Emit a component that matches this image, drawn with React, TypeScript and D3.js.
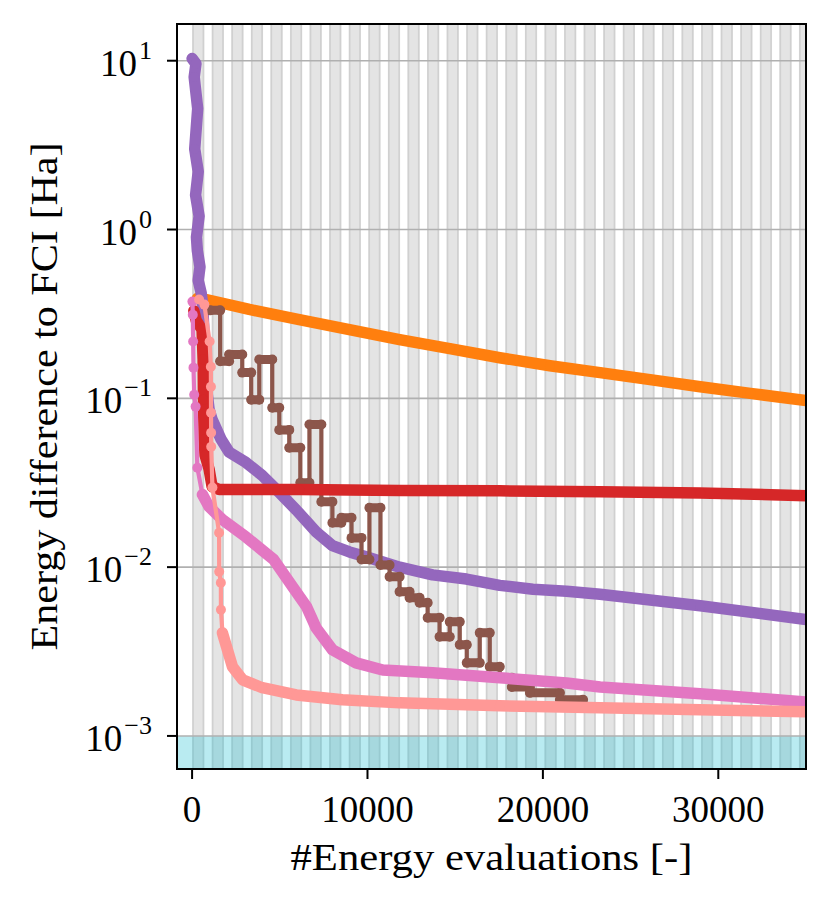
import * as d3 from "d3";

// x: number of energy evaluations, y: energy error to FCI [Ha]
const orangeEvals = [300, 800, 3260, 6110, 8970, 11830, 14690, 17540, 20400, 23260, 26110, 28970, 31830, 35000];
const orangeErr = [0.39, 0.385, 0.336, 0.293, 0.255, 0.223, 0.197, 0.174, 0.156, 0.142, 0.129, 0.117, 0.107, 0.097];

const redEvals = [100, 230, 570, 630, 650, 690, 740, 970, 1140, 1540, 6110, 11830, 17540, 23260, 28970, 35000];
const redErr = [0.33, 0.29, 0.255, 0.17, 0.098, 0.057, 0.046, 0.038, 0.03, 0.0288, 0.0288, 0.0284, 0.0283, 0.028, 0.0275, 0.0265];

const purpleEvals = [0, 220, 120, 320, 150, 350, 200, 400, 250, 300, 450, 350, 520, 600, 660, 700, 740, 800, 970, 1140, 1660, 2110, 3070, 4000, 4970, 5940, 7070, 8000, 8970, 9930, 11830, 13710, 15640, 17540, 19430, 21350, 23260, 28970, 35000];
const purpleErr = [10.3, 9.6, 8.0, 5.2, 3.0, 2.2, 1.6, 1.2, 0.9, 0.75, 0.6, 0.5, 0.42, 0.36, 0.27, 0.2, 0.15, 0.12, 0.086, 0.075, 0.057, 0.048, 0.0417, 0.0349, 0.0277, 0.0218, 0.0162, 0.0134, 0.0123, 0.0115, 0.01, 0.009, 0.0085, 0.0078, 0.0074, 0.0072, 0.0069, 0.0059, 0.0049];

// brown is a staircase: each step is a flat segment start -> end
const brownStart = [1030, 1600, 2110, 2860, 3370, 3830, 4570, 4970, 5540, 6170, 6690, 7370, 8000, 8510, 9090, 9660, 10110, 10740, 11260, 11830, 12400, 12970, 13430, 14110, 14690, 15260, 15660, 16400, 16970, 17540, 18230, 19260, 20970];
const brownEnd = [1600, 2110, 2860, 3370, 3830, 4570, 4970, 5540, 6170, 6690, 7370, 8000, 8510, 9090, 9660, 10110, 10740, 11260, 11830, 12400, 12970, 13430, 14110, 14690, 15260, 15660, 16400, 16970, 17540, 18230, 19260, 20970, 22290];
const brownErr = [0.332, 0.166, 0.182, 0.142, 0.098, 0.17, 0.088, 0.065, 0.051, 0.0316, 0.07, 0.0244, 0.0183, 0.0196, 0.0149, 0.0111, 0.0225, 0.0103, 0.00877, 0.00715, 0.00659, 0.00615, 0.00501, 0.00387, 0.00474, 0.00347, 0.00271, 0.00408, 0.00257, 0.00221, 0.00195, 0.0018, 0.00164];

const pinkEvals = [20, 40, 60, 80, 120, 200, 300, 590, 970, 1730, 3070, 4650, 5730, 6530, 7070, 8000, 9350, 10870, 13710, 17540, 21350, 23260, 28970, 35000];
const pinkErr = [0.374, 0.313, 0.217, 0.152, 0.105, 0.0893, 0.0388, 0.0269, 0.0228, 0.0191, 0.0151, 0.0111, 0.00766, 0.00582, 0.00437, 0.00324, 0.00271, 0.00246, 0.00237, 0.00221, 0.00206, 0.00195, 0.00178, 0.00159];

const salmonEvals = [400, 700, 1000, 1070, 1075, 1080, 1085, 1090, 1160, 1540, 1545, 1640, 1645, 1730, 2300, 2880, 4000, 5940, 8570, 11830, 17540, 23260, 28970, 35000];
const salmonErr = [0.385, 0.359, 0.217, 0.154, 0.117, 0.0822, 0.0626, 0.0517, 0.0296, 0.016, 0.00939, 0.00809, 0.00559, 0.00408, 0.00257, 0.00215, 0.00193, 0.00175, 0.00164, 0.00157, 0.00151, 0.00147, 0.00143, 0.00139];

const xTicks = [0, 10000, 20000, 30000];
const yTickExp = [1, 0, -1, -2, -3];
const chemAcc = 1e-3;

const W = 830, H = 907;
const m = { left: 177, right: 806, top: 24, bottom: 769 };
const FONT = "'Liberation Serif', 'DejaVu Serif', serif";
const THIN = 4.2, THICK = 11.5, DOT = 5;

type Pt = [number, number];
const zip = (xs: number[], ys: number[]): Pt[] => xs.map((v, i) => [v, ys[i]]);

export default function App() {
  const x = d3.scaleLinear().domain([-860, 35000]).range([m.left, m.right]);
  const y = d3.scaleLog().domain([6.37e-4, 16.5]).range([m.bottom, m.top]);
  const line = d3.line<Pt>().x(d => x(d[0])).y(d => y(d[1]));

  const brownPts: Pt[] = [];
  brownStart.forEach((s, i) => {
    brownPts.push([s, brownErr[i]]);
    brownPts.push([brownEnd[i], brownErr[i]]);
  });

  // draw order as seen in the figure
  const series = [
    { color: "#ff7f0e", pts: zip(orangeEvals, orangeErr), thickFrom: 0 },
    { color: "#9467bd", pts: zip(purpleEvals, purpleErr), thickFrom: 0 },
    { color: "#8c564b", pts: brownPts, thickFrom: Infinity, steps: true },
    { color: "#d62728", pts: zip(redEvals, redErr), thickFrom: 0 },
    { color: "#e377c2", pts: zip(pinkEvals, pinkErr), thickFrom: 590 },
    { color: "#ff9896", pts: zip(salmonEvals, salmonErr), thickFrom: 1730 },
  ];

  // light vertical bands behind the data
  const bands = d3.range(0, 35000, 1116);
  const bandW = x(700) - x(0);

  return (
    <svg width={W} height={H} style={{ position: "absolute", left: 0, top: 0, background: "#fff" }} fontFamily={FONT}>
      <defs>
        <clipPath id="plot">
          <rect x={m.left} y={m.top} width={m.right - m.left} height={m.bottom - m.top} />
        </clipPath>
      </defs>
      <g clipPath="url(#plot)">
        {bands.map((b, i) => (
          <g key={i}>
            <rect x={x(b)} y={m.top} width={bandW} height={m.bottom - m.top} fill="#e4e4e4" />
            <line x1={x(b) + 1} x2={x(b) + 1} y1={m.top} y2={m.bottom} stroke="#d0d0d0" strokeWidth={1.6} />
            <line x1={x(b) + bandW - 1} x2={x(b) + bandW - 1} y1={m.top} y2={m.bottom} stroke="#d0d0d0" strokeWidth={1.6} />
          </g>
        ))}
        <rect x={m.left} y={y(chemAcc)} width={m.right - m.left} height={m.bottom - y(chemAcc)} fill="#17becf" opacity={0.3} />
        {yTickExp.map(e => (
          <line key={e} x1={m.left} x2={m.right} y1={y(Math.pow(10, e))} y2={y(Math.pow(10, e))} stroke="#b0b0b0" strokeWidth={1.6} />
        ))}
        {series.map((s, i) => {
          const thick = s.pts.filter(p => p[0] >= s.thickFrom);
          return (
            <g key={i}>
              <path d={line(s.pts) || ""} fill="none" stroke={s.color} strokeWidth={THIN} strokeLinejoin="round" />
              {thick.length > 1 && (
                <path d={line(thick) || ""} fill="none" stroke={s.color} strokeWidth={THICK} strokeLinejoin="round" strokeLinecap="round" />
              )}
              {s.steps && brownStart.map((st, j) => (
                <line key={"s" + j} x1={x(st)} x2={x(brownEnd[j])} y1={y(brownErr[j])} y2={y(brownErr[j])}
                  stroke={s.color} strokeWidth={9} strokeLinecap="round" />
              ))}
              {s.pts.map((p, j) => (
                <circle key={j} cx={x(p[0])} cy={y(p[1])} r={DOT} fill={s.color} />
              ))}
            </g>
          );
        })}
      </g>
      <rect x={m.left} y={m.top} width={m.right - m.left} height={m.bottom - m.top} fill="none" stroke="#000" strokeWidth={2} />
      {xTicks.map(t => (
        <g key={t}>
          <line x1={x(t)} x2={x(t)} y1={m.bottom} y2={m.bottom + 10} stroke="#000" strokeWidth={2} />
          <text x={x(t)} y={822} fontSize={37} textAnchor="middle">{t}</text>
        </g>
      ))}
      {yTickExp.map(e => (
        <g key={e}>
          <line x1={m.left - 10} x2={m.left} y1={y(Math.pow(10, e))} y2={y(Math.pow(10, e))} stroke="#000" strokeWidth={2} />
          <text x={152} y={y(Math.pow(10, e)) + 15} fontSize={37} textAnchor="end">
            <tspan>10</tspan>
            <tspan dx={2} dy={-17} fontSize={26}>{e < 0 ? "\u2212" + Math.abs(e) : String(e)}</tspan>
          </text>
        </g>
      ))}
      <text x={(m.left + m.right) / 2} y={870} fontSize={37} textAnchor="middle" textLength={402} lengthAdjust="spacingAndGlyphs">
        #Energy evaluations [-]
      </text>
      <text transform={`translate(57,${(m.top + m.bottom) / 2}) rotate(-90)`} fontSize={37} textAnchor="middle" textLength={508} lengthAdjust="spacingAndGlyphs">
        Energy difference to FCI [Ha]
      </text>
    </svg>
  );
}
